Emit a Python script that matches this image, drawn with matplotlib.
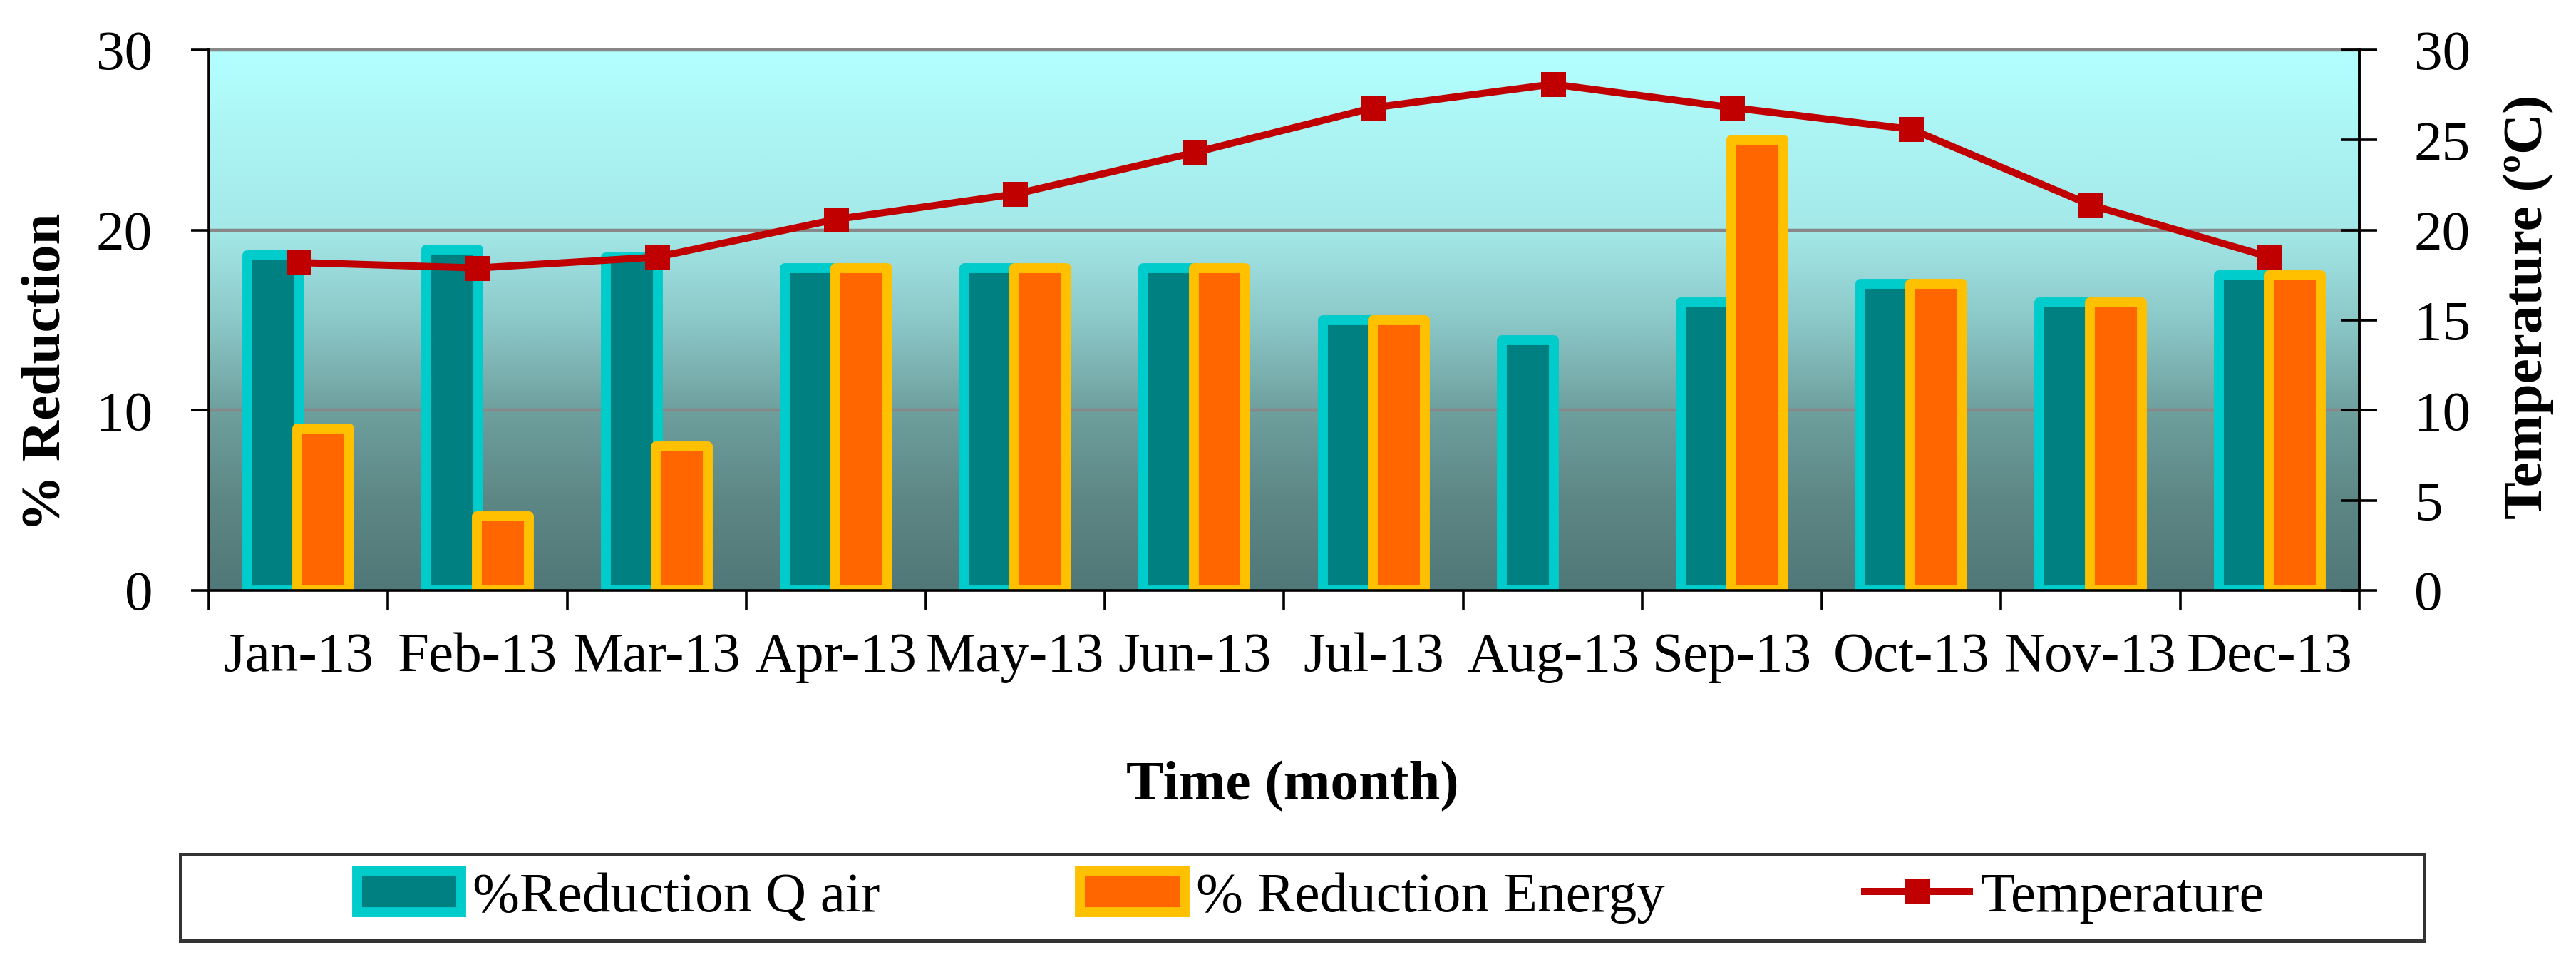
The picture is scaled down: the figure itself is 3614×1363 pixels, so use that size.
import numpy as np
import matplotlib
matplotlib.use("Agg")
import matplotlib.pyplot as plt
from matplotlib.patches import Patch, Rectangle
from matplotlib.lines import Line2D
from matplotlib.colors import LinearSegmentedColormap

# ---------------- data ----------------
months = ["Jan-13", "Feb-13", "Mar-13", "Apr-13", "May-13", "Jun-13",
          "Jul-13", "Aug-13", "Sep-13", "Oct-13", "Nov-13", "Dec-13"]
reduction_q_air = [18.6, 18.9, 18.5, 17.9, 17.9, 17.9, 15.0, 13.9, 16.0, 17.0, 16.0, 17.5]
reduction_energy = [9.0, 4.1, 8.0, 17.9, 17.9, 17.9, 15.0, np.nan, 25.0, 17.0, 16.0, 17.5]
temperature = [18.2, 17.9, 18.5, 20.6, 22.0, 24.3, 26.8, 28.1, 26.8, 25.6, 21.4, 18.5]
left_ticks = [0, 10, 20, 30]
right_ticks = [0, 5, 10, 15, 20, 25, 30]

# ---------------- style ----------------
plt.rcParams['font.family'] = ['Liberation Serif', 'DejaVu Serif']
FS = 28.5
TEAL, CYAN = "#008080", "#00CCCC"
ORANGE, GOLD = "#FF6600", "#FFC000"
RED = "#C00000"
GRID = "#888888"

W, H, DPI = 3614, 1363, 200
fig = plt.figure(figsize=(W / DPI, H / DPI), dpi=DPI)
ax = fig.add_axes([293 / W, 1 - 828 / H, (3310 - 293) / W, (828 - 70) / H])

x = np.arange(len(months))
ax.set_xlim(-0.5, len(months) - 0.5)
ax.set_ylim(0, 30)

# gradient background
grad_cmap = LinearSegmentedColormap.from_list(
    "bg", [(0.0, "#507878"), (1 / 6, "#5D8785"), (1 / 3, "#6EA09E"),
           (0.5, "#8CC8C8"), (2 / 3, "#A4E8E8"), (1.0, "#B3FFFF")])
grad = np.linspace(0, 1, 512).reshape(-1, 1)
ax.imshow(grad, cmap=grad_cmap, origin="lower", aspect="auto",
          extent=[-0.5, len(months) - 0.5, 0, 30], zorder=0, interpolation="bilinear")

# grid
for g in left_ticks[1:]:
    ax.axhline(g, color=GRID, lw=1.6, zorder=0.5, clip_on=False)

# bars
bw = 0.29
off = 0.14
ax.bar(x - off, reduction_q_air, width=bw, color=TEAL, edgecolor=CYAN,
       linewidth=5, joinstyle="round", zorder=2)
ax.bar(x + off, reduction_energy, width=bw, color=ORANGE, edgecolor=GOLD,
       linewidth=5, joinstyle="round", zorder=2.1)

# axes / ticks left
ax.spines["top"].set_visible(False)
for s in ["left", "bottom", "right"]:
    ax.spines[s].set_color("black")
    ax.spines[s].set_linewidth(1.3)
    ax.spines[s].set_zorder(3)
ax.set_yticks(left_ticks)
ax.tick_params(axis="y", which="major", direction="out", length=9, width=1.3,
               pad=19.4, labelsize=FS)
ax.set_xticks(np.arange(-0.5, len(months), 1.0))
ax.set_xticklabels([])
ax.set_xticks(x, minor=True)
ax.set_xticklabels(months, minor=True)
ax.tick_params(axis="x", which="major", direction="out", length=9.7, width=1.3)
ax.tick_params(axis="x", which="minor", length=0, pad=21, labelsize=FS)

# temperature line on secondary axis
ax2 = ax.twinx()
ax2.set_ylim(0, 30)
ax2.plot(x, temperature, color=RED, lw=3.6, marker="s", markersize=12.6,
         markeredgewidth=0, markerfacecolor=RED, zorder=5, clip_on=False)
for s in ["left", "top", "bottom"]:
    ax2.spines[s].set_visible(False)
ax2.spines["right"].set_color("black")
ax2.spines["right"].set_linewidth(1.3)
ax2.set_yticks(right_ticks)
ax2.tick_params(axis="y", direction="inout", length=18, width=1.3, pad=18.7,
                labelsize=FS)

# axis titles
fig.text(84 / W, 1 - 522 / H, "% Reduction", rotation=90, rotation_mode="anchor",
         ha="center", va="baseline", fontsize=FS, fontweight="bold")
fig.text(3566 / W, 1 - 430 / H, "Temperature (ºC)", rotation=90, rotation_mode="anchor",
         ha="center", va="baseline", fontsize=FS, fontweight="bold")
fig.text(1813 / W, 1 - 1121 / H, "Time (month)", ha="center", va="baseline",
         fontsize=FS, fontweight="bold")

# legend
fig.patches.append(Rectangle((253 / W, 1 - 1319 / H), (3401 - 253) / W, (1319 - 1198) / H,
                             transform=fig.transFigure, facecolor="white",
                             edgecolor="#333333", linewidth=1.8, zorder=0))
handles = [
    Patch(facecolor=TEAL, edgecolor=CYAN, linewidth=5, joinstyle="round"),
    Patch(facecolor=ORANGE, edgecolor=GOLD, linewidth=5, joinstyle="round"),
    Line2D([], [], color=RED, lw=3.6, marker="s", markersize=12.6,
           markeredgewidth=0, markerfacecolor=RED),
]
labels = ["%Reduction Q air", "% Reduction Energy", "Temperature"]
fig.legend(handles, labels, loc="center", bbox_to_anchor=(1839 / W, 1 - 1258 / H),
           ncol=3, frameon=False, fontsize=FS, handlelength=1.85, handleheight=0.75,
           handletextpad=0.2, columnspacing=3.55, borderaxespad=0)

fig.savefig("out.png", dpi=DPI)
